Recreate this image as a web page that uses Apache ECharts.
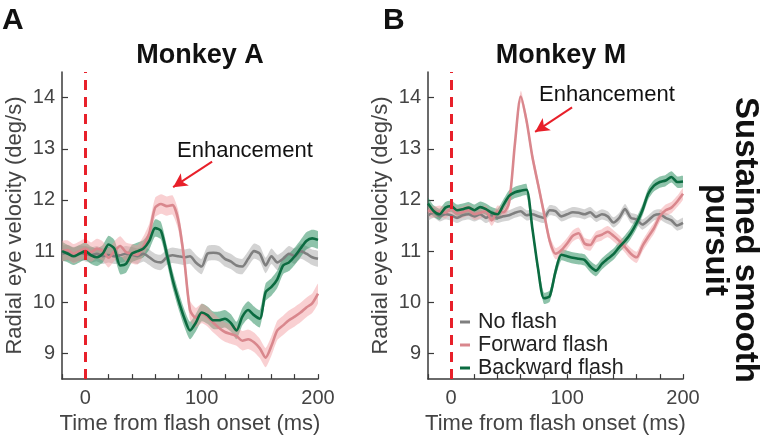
<!DOCTYPE html>
<html>
<head>
<meta charset="utf-8">
<script src="https://cdn.jsdelivr.net/npm/echarts@6/dist/echarts.min.js"></script>
<style>html,body{margin:0;padding:0;background:#fff}#c{width:766px;height:440px}</style>
</head>
<body>
<div id="c"></div>
<script>
// time from flash onset (ms)
const time = [-20,-15,-10,-5,0,5,10,15,20,25,30,35,40,45,50,55,60,65,70,75,80,85,90,95,100,105,110,115,120,125,130,135,140,145,150,155,160,165,170,175,180,185,190,195,200];
// Monkey A
const noFlashA  = [10.95,10.97,10.93,10.96,10.95,10.92,10.95,10.9,10.93,10.9,10.92,10.95,10.93,10.9,10.95,10.88,10.8,10.78,10.88,10.92,10.9,10.88,10.9,10.78,10.7,10.95,10.97,10.95,10.85,10.8,10.72,10.7,10.85,11.0,10.95,10.72,10.9,10.78,10.85,10.95,10.9,11.0,10.95,10.88,10.85];
const forwardA  = [11.0,11.02,10.95,11.0,11.05,10.98,11.05,11.0,10.87,11.0,11.1,10.98,10.95,10.93,11.1,11.35,11.85,11.92,11.88,11.9,11.6,10.85,9.85,9.7,9.78,9.72,9.6,9.5,9.42,9.38,9.34,9.25,9.28,9.22,9.1,8.92,9.15,9.45,9.55,9.65,9.72,9.8,9.9,9.98,10.17];
const backwardA = [11.0,10.95,10.9,10.95,11.0,10.92,10.88,10.95,11.13,11.05,10.72,10.75,10.95,11.0,11.05,11.2,11.45,11.4,10.95,10.45,10.05,9.7,9.45,9.6,9.8,9.75,9.65,9.65,9.68,9.6,9.45,9.72,9.85,9.75,9.68,10.2,10.3,10.45,10.72,10.78,10.9,11.05,11.2,11.25,11.22];
// Monkey M
const noFlashB  = [11.7,11.75,11.68,11.72,11.7,11.65,11.7,11.72,11.68,11.72,11.65,11.7,11.65,11.68,11.7,11.75,11.78,11.7,11.72,11.68,11.65,11.8,11.78,11.68,11.72,11.76,11.75,11.72,11.76,11.67,11.72,11.68,11.56,11.65,11.82,11.65,11.62,11.52,11.6,11.7,11.72,11.65,11.6,11.5,11.55];
const forwardB  = [11.8,11.76,11.78,11.75,11.83,11.74,11.76,11.8,11.72,11.75,11.78,11.6,11.78,11.76,11.95,13.1,14.02,13.55,12.85,12.3,11.75,11.2,10.95,11.02,11.15,11.3,11.35,11.15,11.12,11.28,11.32,11.38,11.3,11.2,11.08,10.95,10.88,11.1,11.28,11.45,11.68,11.8,11.85,11.97,12.12];
const backwardB = [11.93,11.78,11.72,11.85,11.88,11.8,11.82,11.85,11.8,11.86,11.82,11.75,11.72,11.9,12.08,12.15,12.18,12.2,11.45,10.65,10.08,10.12,10.6,10.93,10.9,10.87,10.85,10.83,10.7,10.62,10.75,10.85,10.94,11.08,11.2,11.35,11.55,11.8,12.12,12.28,12.35,12.38,12.45,12.35,12.36];
// half-width of the shaded error bands
const bandHalfA = {noFlash:0.15, forward:0.19, backward:0.17};
const bandHalfB = {noFlash:0.10, forward:0.11, backward:0.11};
const names = ['No flash','Forward flash','Backward flash'];
const xTickLabels = [0,100,200];

const FONT = '"Liberation Sans", Arial, sans-serif';
const lineColors = {noFlash:'#7f7f7f', forward:'#d9878d', backward:'#0b6b40'};
const bandColors = {noFlash:'rgba(150,150,150,0.42)', forward:'rgba(242,150,156,0.45)', backward:'rgba(30,135,85,0.5)'};
const SM = 0.25;

function bandSeries(key, vals, hw, gi){
  const data = time.map((t,i)=>[t, vals[i]-hw, vals[i]+hw]);
  return {type:'custom', xAxisIndex:gi, yAxisIndex:gi, silent:true, clip:true,
    encode:{x:0, y:[1,2]}, data:data,
    renderItem:function(params, api){
      if (params.dataIndex !== 0) return null;
      const upper = data.map(d=>api.coord([d[0], d[2]]));
      const lower = data.map(d=>api.coord([d[0], d[1]])).reverse();
      return {type:'polygon', shape:{points: upper.concat(lower), smooth:0.2},
        style:{fill:bandColors[key], stroke:null}};
    }};
}
function meanSeries(name, key, vals, gi, extra){
  return Object.assign({type:'line', name:name, xAxisIndex:gi, yAxisIndex:gi, symbol:'none', smooth:SM, silent:true,
    itemStyle:{color:lineColors[key]}, lineStyle:{color:lineColors[key], width:2.6},
    data: time.map((t,i)=>[t, vals[i]])}, extra||{});
}
const dashLine = {silent:true, symbol:'none', label:{show:false},
  lineStyle:{color:'#e8202a', type:[10,7], width:3}, data:[{xAxis:0}]};
function arrow(from, to){
  return {silent:true, symbol:['none','arrow'], symbolSize:[11,14], label:{show:false},
    lineStyle:{color:'#e8202a', type:'solid', width:2},
    data:[[{coord:from},{coord:to}]]};
}

const series = [];
[['A',0,noFlashA,forwardA,backwardA,bandHalfA,[109,12.75],[75.5,12.25]],
 ['B',1,noFlashB,forwardB,backwardB,bandHalfB,[104.3,13.81],[72.4,13.33]]].forEach(p=>{
  const gi=p[1];
  series.push(bandSeries('noFlash',p[2],p[5].noFlash,gi));
  series.push(bandSeries('backward',p[4],p[5].backward,gi));
  series.push(bandSeries('forward',p[3],p[5].forward,gi));
  series.push(meanSeries(names[0],'noFlash',p[2],gi,{markLine:dashLine}));
  series.push(meanSeries(names[1],'forward',p[3],gi,{markLine:arrow(p[6],p[7])}));
  series.push(meanSeries(names[2],'backward',p[4],gi));
});

const axisCol = '#3a3a3a';
function xAxis(gi){
  return {type:'value', gridIndex:gi, min:-20, max:200, interval:20,
    axisLine:{show:true, onZero:false, lineStyle:{color:axisCol, width:1.5}},
    axisTick:{show:true, inside:true, length:5, lineStyle:{color:axisCol, width:1.2}},
    axisLabel:{fontFamily:FONT, fontSize:20, color:'#444', margin:9,
      formatter:v=> xTickLabels.includes(v) ? String(v) : ''},
    splitLine:{show:false},
    name:'Time from flash onset (ms)', nameLocation:'middle', nameGap:33,
    nameTextStyle:{fontFamily:FONT, fontSize:22, color:'#444'}};
}
function yAxis(gi){
  return {type:'value', gridIndex:gi, min:8.5, max:14.5, splitNumber:6, minInterval:1, maxInterval:1,
    axisLine:{show:true, onZero:false, lineStyle:{color:axisCol, width:1.5}},
    axisTick:{show:true, inside:true, length:6, lineStyle:{color:axisCol, width:1.2}},
    axisLabel:{fontFamily:FONT, fontSize:20, color:'#444', margin:7, showMinLabel:false, showMaxLabel:false,
      formatter:v=> Number.isInteger(v) ? String(v) : ''},
    splitLine:{show:false},
    name:'Radial eye velocity (deg/s)', nameLocation:'middle', nameGap:36,
    nameTextStyle:{fontFamily:FONT, fontSize:22, color:'#444'}};
}

const chart = echarts.init(document.getElementById('c'), null, {renderer:'canvas'});
chart.setOption({
  animation:false,
  backgroundColor:'#fff',
  grid:[{left:62, top:72, width:256, height:311},{left:428, top:72, width:255, height:311}],
  xAxis:[xAxis(0), xAxis(1)],
  yAxis:[yAxis(0), yAxis(1)],
  legend:{data:names, orient:'vertical', left:455, top:306, itemWidth:10, itemHeight:3, itemGap:1, icon:'rect',
    selectedMode:false, textStyle:{fontFamily:FONT, fontSize:21.5, color:'#222', padding:[0,0,0,3]}},
  series:series,
  graphic:[
    {type:'text', left:2, top:6, style:{text:'A', font:'bold 30px '+FONT, fill:'#111'}},
    {type:'text', left:383, top:6, style:{text:'B', font:'bold 30px '+FONT, fill:'#111'}},
    {type:'text', x:200, y:56, style:{text:'Monkey A', font:'bold 27px '+FONT, fill:'#111', align:'center', verticalAlign:'middle'}},
    {type:'text', x:561, y:56, style:{text:'Monkey M', font:'bold 27px '+FONT, fill:'#111', align:'center', verticalAlign:'middle'}},
    {type:'text', x:177, y:151, style:{text:'Enhancement', font:'22px '+FONT, fill:'#111', align:'left', verticalAlign:'middle'}},
    {type:'text', x:539, y:95, style:{text:'Enhancement', font:'22px '+FONT, fill:'#111', align:'left', verticalAlign:'middle'}},
    {type:'text', x:730, y:240, rotation:-Math.PI/2,
     style:{text:'Sustained smooth\npursuit', font:'bold 33px '+FONT, lineHeight:30, fill:'#111', align:'center', verticalAlign:'middle'}}
  ]
});
</script>
</body>
</html>
